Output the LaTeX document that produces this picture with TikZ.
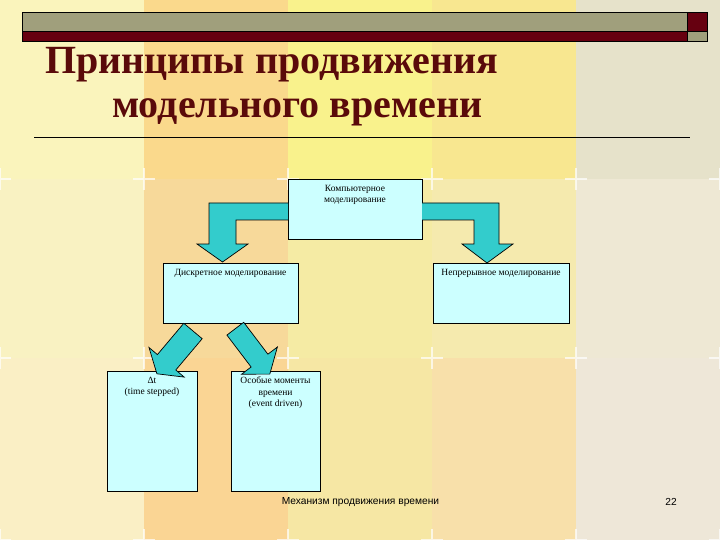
\documentclass[tikz,border=0pt]{standalone}
\usepackage{fontspec}
\setmainfont{Liberation Serif}
\newfontfamily\arialf{Liberation Sans}
\definecolor{tA1}{HTML}{FAF4BC}
\definecolor{tA2}{HTML}{FAD98C}
\definecolor{tA3}{HTML}{F9F28C}
\definecolor{tA4}{HTML}{F8E790}
\definecolor{tA5}{HTML}{E6E2CA}
\definecolor{tB1}{HTML}{F9F2C2}
\definecolor{tB2}{HTML}{F7D99A}
\definecolor{tB3}{HTML}{F5EBA4}
\definecolor{tB4}{HTML}{F5EAAE}
\definecolor{tB5}{HTML}{EEE8D4}
\definecolor{tC1}{HTML}{FAEFC5}
\definecolor{tC2}{HTML}{FAD594}
\definecolor{tC3}{HTML}{F6E7A4}
\definecolor{tC4}{HTML}{F8E0AA}
\definecolor{tC5}{HTML}{EEE7D8}
\definecolor{boxfill}{HTML}{CCFFFF}
\definecolor{arrowfill}{HTML}{33CCCC}
\definecolor{titlecol}{HTML}{5A0A0A}
\definecolor{bargrey}{HTML}{A09F7C}
\definecolor{barred}{HTML}{660010}
\begin{document}
\begin{tikzpicture}[x=1pt,y=-1pt,
  boxnode/.style={draw=black, line width=0.8pt, fill=boxfill, inner sep=0pt},
  boxtext/.style={font=\fontsize{9.5}{11.5}\selectfont, align=center, inner sep=0pt, anchor=north},
  blockarrow/.style={draw=black, line width=0.7pt, fill=arrowfill, line join=miter},
  plusmark/.style={draw=white, line width=2.2pt, opacity=0.7}]
\useasboundingbox (0,0) rectangle (720,540);
% background tiles
\foreach \c/\xa in {1/0,2/144,3/288,4/432,5/576}{
  \fill[tA\c] (\xa,0) rectangle ++(144,179);
  \fill[tB\c] (\xa,179) rectangle ++(144,179);
  \fill[tC\c] (\xa,358) rectangle ++(144,182);
}
% plus marks
\foreach \px in {0,144,288,432,576,720}{
  \foreach \py in {179,358,540}{
    \draw[plusmark] (\px-11,\py) -- (\px+11,\py) (\px,\py-11) -- (\px,\py+11);
  }
}
% header bars
\draw[fill=bargrey, line width=0.8pt] (22,12) rectangle (687,31);
\draw[fill=barred, line width=0.8pt] (22,31) rectangle (687,41);
\draw[fill=barred, line width=0.8pt] (687,12) rectangle (707,31);
\draw[fill=bargrey, line width=0.8pt] (687,31) rectangle (707,41);
% title
\node[anchor=base west, inner sep=0pt, text=titlecol, font=\fontsize{40}{42}\selectfont\bfseries] (t1) at (45,74) {Принципы продвижения};
\node[anchor=base west, inner sep=0pt, text=titlecol, font=\fontsize{40}{42}\selectfont\bfseries] (t2) at (112,118) {модельного времени};
\draw[line width=0.6pt] (34,137) -- (690,137);
% boxes
\node[boxnode, minimum width=134pt, minimum height=60pt] (top) at (355,209) {};
\node[boxnode, minimum width=135pt, minimum height=60pt] (disc) at (230.5,293) {};
\node[boxnode, minimum width=136pt, minimum height=60pt] (cont) at (501,293) {};
\node[boxnode, minimum width=90pt, minimum height=120pt] (dt) at (152,431) {};
\node[boxnode, minimum width=89pt, minimum height=120pt] (ev) at (275.5,431) {};
% bent arrows
\draw[blockarrow] (288,203) -- (209,203) -- (209,244) -- (197,244) -- (222.5,262) -- (248,244) -- (236,244) -- (236,220) -- (288,220);
\draw[blockarrow] (422,203) -- (499,203) -- (499,244) -- (513,244) -- (487,263) -- (462,244) -- (474,244) -- (474,220) -- (422,220);
% diagonal arrows
\draw[blockarrow] (183.8,323.3) -- (157.4,354.6) -- (149.0,347.5) -- (156.9,373.8) -- (184.2,377.1) -- (175.8,370.0) -- (202.2,338.7) -- cycle;
\draw[blockarrow] (243.7,322.3) -- (267.9,354.2) -- (277.4,347.0) -- (269.8,374.1) -- (241.6,374.2) -- (251.1,367.0) -- (226.9,335.1) -- cycle;
% box texts
\node[boxtext] (toptxt) at ([yshift=-6pt]top.north) {Компьютерное\\моделирование};
\node[boxtext] (disctxt) at ([yshift=-6pt]disc.north) {Дискретное моделирование};
\node[boxtext] (conttxt) at ([yshift=-6pt]cont.north) {Непрерывное моделирование};
\node[boxtext] (dttxt) at ([yshift=-6pt]dt.north) {Δt\\(time stepped)};
\node[boxtext] (evtxt) at ([yshift=-6pt]ev.north) {Особые моменты\\времени\\(event driven)};
% footer
\node[font=\arialf\fontsize{10.2}{12}\selectfont, inner sep=0pt] (foot) at (360.5,502) {Механизм продвижения времени};
\node[font=\arialf\fontsize{10.2}{12}\selectfont, inner sep=0pt] (num) at (671,502) {22};
\end{tikzpicture}
\end{document}
